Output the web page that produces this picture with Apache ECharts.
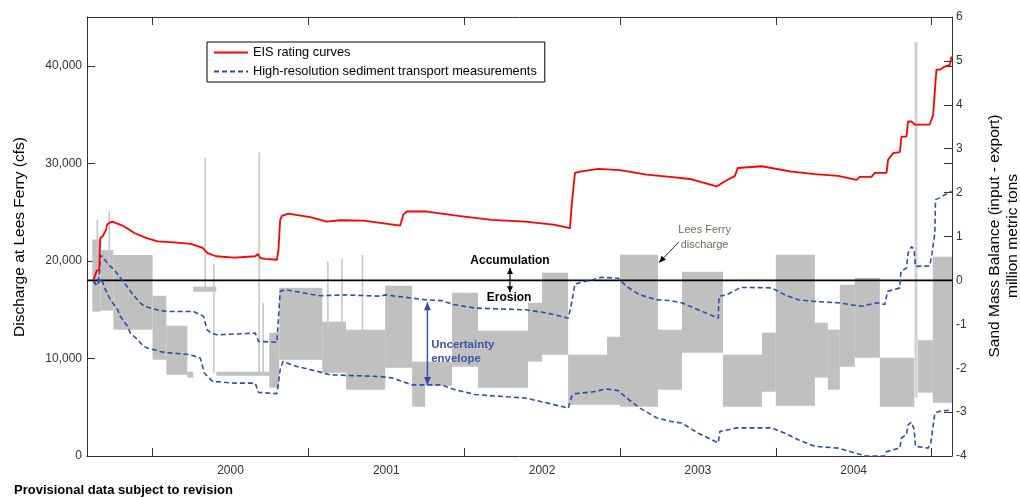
<!DOCTYPE html>
<html>
<head>
<meta charset="utf-8">
<script src="https://cdn.jsdelivr.net/npm/echarts@6/dist/echarts.min.js"></script>
<style>
  html, body { margin: 0; padding: 0; background: #fff; }
  #chart { width: 1020px; height: 498px; }
</style>
</head>
<body>
<div id="chart"></div>
<script>
// ---- time axis (decimal years) ----
const X_MIN = 1999.579;
const X_MAX = 2005.131;
const yearTicks = [2000, 2001, 2002, 2003, 2004, 2005];
const yearLabelPos = [2000.5, 2001.5, 2002.5, 2003.5, 2004.5];
const dischargeTicks = [0, 10000, 20000, 30000, 40000];

// Lees Ferry discharge, fluctuating-flow periods: [start, end, daily low, daily high] (cfs)
const dischargeBlocks = [
  [1999.613, 1999.665, 14800, 22200],
  [1999.665, 1999.748, 14900, 21100],
  [1999.748, 2000.000, 12950, 20600],
  [2000.000, 2000.088, 9870, 16430],
  [2000.088, 2000.223, 8330, 13360],
  [2000.223, 2000.261, 8030, 8640],
  [2000.261, 2000.409, 16840, 17350],
  [2000.409, 2000.749, 8230, 8640],
  [2000.749, 2000.813, 7000, 12640],
  [2000.813, 2001.089, 9870, 17250],
  [2001.089, 2001.242, 8540, 13770],
  [2001.242, 2001.493, 6800, 12950],
  [2001.493, 2001.666, 9050, 17460],
  [2001.666, 2001.749, 5050, 9670],
  [2001.749, 2001.922, 7210, 9670],
  [2001.922, 2002.089, 9150, 16740],
  [2002.089, 2002.410, 7000, 12840],
  [2002.410, 2002.500, 9670, 15710],
  [2002.500, 2002.667, 10380, 18790],
  [2002.667, 2002.917, 5260, 10380],
  [2002.917, 2003.000, 5260, 12230],
  [2003.000, 2003.244, 5050, 20630],
  [2003.244, 2003.398, 6800, 12950],
  [2003.398, 2003.661, 10590, 18890],
  [2003.661, 2003.911, 5050, 10380],
  [2003.911, 2004.000, 6590, 12640],
  [2004.000, 2004.251, 5160, 20630],
  [2004.251, 2004.334, 8030, 13660],
  [2004.334, 2004.411, 6800, 12950],
  [2004.411, 2004.507, 9150, 17560],
  [2004.507, 2004.668, 10080, 18280],
  [2004.668, 2004.889, 5050, 10080],
  [2004.912, 2005.008, 6490, 11870],
  [2005.008, 2005.131, 5460, 20430]
];

// short flow peaks: [time, low, high] (cfs)
const dischargeSpikes = [
  [1999.645, 20000, 24200],
  [1999.722, 20000, 25100],
  [2000.338, 17000, 30600],
  [2000.393, 8500, 19700],
  [2000.684, 8300, 31100],
  [2000.710, 8300, 15700],
  [2001.125, 13000, 19900],
  [2001.215, 13000, 20200],
  [2001.347, 12900, 20600]
];

// November 2004 high-flow release: [time, low, high] (cfs)
const highFlowRelease = [
  [2004.900, 6000, 42400]
];

// sand mass balance, EIS rating curves (million metric tons)
const eisCurve = [
  [1999.622,0.02],[1999.632,0.13],[1999.643,0.23],[1999.658,0.24],[1999.661,0.70],[1999.665,0.97],
  [1999.679,1.00],[1999.690,1.00],[1999.701,1.15],[1999.708,1.27],[1999.722,1.31],[1999.743,1.34],
  [1999.818,1.23],[1999.883,1.08],[1999.958,0.97],[2000.032,0.89],[2000.118,0.87],[2000.246,0.83],
  [2000.321,0.74],[2000.353,0.62],[2000.407,0.55],[2000.524,0.52],[2000.659,0.55],[2000.676,0.60],
  [2000.691,0.51],[2000.723,0.49],[2000.798,0.47],[2000.808,0.70],[2000.819,1.38],[2000.830,1.47],
  [2000.872,1.52],[2001.012,1.44],[2001.119,1.34],[2001.204,1.37],[2001.353,1.36],[2001.461,1.31],
  [2001.589,1.25],[2001.610,1.50],[2001.632,1.57],[2001.749,1.57],[2001.963,1.47],[2002.177,1.38],
  [2002.391,1.34],[2002.572,1.27],[2002.679,1.19],[2002.690,1.72],[2002.711,2.45],[2002.743,2.48],
  [2002.861,2.54],[2003.000,2.51],[2003.171,2.41],[2003.321,2.36],[2003.449,2.31],[2003.620,2.14],
  [2003.674,2.26],[2003.738,2.38],[2003.755,2.56],[2003.909,2.60],[2004.101,2.48],[2004.251,2.42],
  [2004.400,2.38],[2004.518,2.29],[2004.539,2.36],[2004.614,2.36],[2004.636,2.45],[2004.711,2.45],
  [2004.721,2.75],[2004.753,2.90],[2004.796,2.92],[2004.807,3.27],[2004.839,3.28],[2004.849,3.62],
  [2004.871,3.62],[2004.892,3.55],[2004.988,3.55],[2005.010,3.77],[2005.021,3.81],[2005.031,4.80],
  [2005.053,4.80],[2005.085,4.87],[2005.117,4.91],[2005.128,5.10]
];

// high-resolution measurements, upper bound of the uncertainty envelope
const hrUpper = [
  [1999.620,-0.01],[1999.639,-0.10],[1999.658,0.08],[1999.665,0.56],[1999.679,0.55],[1999.701,0.43],
  [1999.729,0.32],[1999.754,0.24],[1999.818,-0.06],[1999.836,-0.14],[1999.883,-0.36],[1999.921,-0.51],
  [1999.947,-0.59],[2000.028,-0.67],[2000.096,-0.71],[2000.263,-0.71],[2000.327,-0.82],[2000.349,-1.12],
  [2000.375,-1.20],[2000.413,-1.24],[2000.659,-1.20],[2000.680,-1.39],[2000.798,-1.41],[2000.819,-0.25],
  [2000.851,-0.21],[2000.990,-0.30],[2001.076,-0.35],[2001.236,-0.33],[2001.461,-0.36],[2001.493,-0.33],
  [2001.749,-0.44],[2001.856,-0.46],[2001.931,-0.55],[2002.070,-0.63],[2002.391,-0.67],[2002.530,-0.74],
  [2002.668,-0.86],[2002.690,-0.51],[2002.711,-0.08],[2002.829,0.02],[2002.883,0.07],[2002.989,0.05],
  [2003.043,-0.14],[2003.128,-0.33],[2003.235,-0.44],[2003.321,-0.46],[2003.396,-0.51],[2003.502,-0.67],
  [2003.631,-0.86],[2003.635,-0.36],[2003.684,-0.33],[2003.749,-0.21],[2003.770,-0.16],[2003.973,-0.17],
  [2004.058,-0.33],[2004.144,-0.44],[2004.251,-0.48],[2004.400,-0.51],[2004.550,-0.59],[2004.647,-0.51],
  [2004.700,-0.55],[2004.717,-0.25],[2004.796,-0.17],[2004.803,0.21],[2004.839,0.28],[2004.849,0.62],
  [2004.871,0.77],[2004.888,0.70],[2004.897,0.32],[2004.988,0.33],[2005.003,0.62],[2005.021,1.08],
  [2005.025,1.84],[2005.053,1.88],[2005.085,1.95],[2005.128,2.03]
];

// high-resolution measurements, lower bound of the uncertainty envelope
const hrLower = [
  [1999.620,-0.01],[1999.639,-0.12],[1999.658,-0.03],[1999.671,0.04],[1999.697,-0.21],[1999.729,-0.44],
  [1999.776,-0.67],[1999.793,-0.82],[1999.840,-1.05],[1999.857,-1.20],[1999.904,-1.35],[1999.942,-1.50],
  [1999.968,-1.54],[2000.049,-1.62],[2000.075,-1.64],[2000.242,-1.69],[2000.306,-1.77],[2000.310,-1.81],
  [2000.332,-2.11],[2000.385,-2.30],[2000.524,-2.34],[2000.659,-2.34],[2000.680,-2.55],[2000.798,-2.58],
  [2000.819,-2.03],[2000.836,-1.85],[2000.926,-1.96],[2001.055,-2.07],[2001.140,-2.15],[2001.461,-2.19],
  [2001.536,-2.22],[2001.664,-2.38],[2001.856,-2.38],[2001.942,-2.49],[2002.070,-2.60],[2002.391,-2.68],
  [2002.530,-2.79],[2002.668,-2.91],[2002.690,-2.64],[2002.711,-2.58],[2002.851,-2.53],[2002.904,-2.47],
  [2002.989,-2.51],[2003.043,-2.68],[2003.128,-2.91],[2003.235,-3.13],[2003.321,-3.21],[2003.396,-3.25],
  [2003.502,-3.48],[2003.631,-3.70],[2003.641,-3.44],[2003.749,-3.36],[2003.973,-3.36],[2004.058,-3.48],
  [2004.144,-3.63],[2004.251,-3.78],[2004.400,-3.82],[2004.507,-3.93],[2004.582,-4.00],[2004.700,-4.00],
  [2004.711,-3.90],[2004.796,-3.82],[2004.807,-3.59],[2004.839,-3.51],[2004.849,-3.29],[2004.871,-3.23],
  [2004.888,-3.40],[2004.897,-3.78],[2004.978,-3.82],[2004.995,-3.70],[2005.021,-3.02],[2005.053,-2.98],
  [2005.128,-2.95]
];

// zero line of the mass balance (accumulation above, erosion below)
const zeroBalance = [[X_MIN, 0], [X_MAX, 0]];

const NAME_EIS = 'EIS rating curves';
const NAME_HR = 'High-resolution sediment transport measurements';
const FONT = 'Arial, "Liberation Sans", Helvetica, sans-serif';
const AXIS_COLOR = '#333';
const GRAY = '#c0c0c0';
const BLUE = '#2f4ea6';
const RED = '#ff0000';

const chart = echarts.init(document.getElementById('chart'), null, { renderer: 'canvas' });

function renderBlock(params, api) {
  const p0 = api.coord([api.value(0), api.value(3)]);
  const p1 = api.coord([api.value(1), api.value(2)]);
  return {
    type: 'rect',
    shape: { x: p0[0], y: p0[1], width: Math.max(p1[0] - p0[0], 1), height: Math.max(p1[1] - p0[1], 2) },
    style: { fill: GRAY }
  };
}

function spikeRenderer(width, color) {
  return function (params, api) {
    const top = api.coord([api.value(0), api.value(2)]);
    const bottom = api.coord([api.value(0), api.value(1)]);
    return {
      type: 'rect',
      shape: { x: top[0] - width / 2, y: top[1], width: width, height: bottom[1] - top[1] },
      style: { fill: color }
    };
  };
}

const tickStyle = { color: AXIS_COLOR, width: 1 };
const labelStyle = { color: '#333', fontSize: 12, fontFamily: FONT };

const option = {
  animation: false,
  backgroundColor: '#fff',
  grid: { left: 87, right: 68, top: 17, bottom: 42, containLabel: false },
  legend: {
    data: [NAME_EIS, NAME_HR],
    orient: 'vertical',
    left: 207,
    top: 42,
    padding: [4, 8, 4, 6],
    itemGap: 6,
    itemWidth: 34,
    itemHeight: 14,
    borderColor: '#000',
    borderWidth: 1,
    backgroundColor: '#fff',
    selectedMode: false,
    itemStyle: { opacity: 0 },
    textStyle: { fontSize: 12.8, fontFamily: FONT, color: '#000' }
  },
  xAxis: [
    {
      type: 'value', min: X_MIN, max: X_MAX, position: 'bottom',
      axisLine: { show: true, lineStyle: { color: AXIS_COLOR, width: 1 } },
      axisTick: { show: true, inside: true, length: 8, customValues: yearTicks, lineStyle: tickStyle },
      axisLabel: {
        show: true, margin: 9, customValues: yearLabelPos, ...labelStyle,
        formatter: v => String(Math.floor(v))
      },
      splitLine: { show: false }
    },
    {
      type: 'value', min: X_MIN, max: X_MAX, position: 'top',
      axisLine: { show: true, onZero: false, lineStyle: { color: AXIS_COLOR, width: 1 } },
      axisTick: { show: true, inside: true, length: 8, customValues: yearTicks, lineStyle: tickStyle },
      axisLabel: { show: false },
      splitLine: { show: false }
    }
  ],
  yAxis: [
    {
      type: 'value', min: 0, max: 45000, position: 'left',
      axisLine: { show: true, onZero: false, lineStyle: { color: AXIS_COLOR, width: 1 } },
      axisTick: { show: true, inside: true, length: 8, customValues: dischargeTicks, lineStyle: tickStyle },
      axisLabel: {
        show: true, margin: 5, customValues: dischargeTicks, ...labelStyle,
        formatter: v => Number(v).toLocaleString('en-US')
      },
      splitLine: { show: false }
    },
    {
      type: 'value', min: -4, max: 6, interval: 1, position: 'right',
      axisLine: { show: true, onZero: false, lineStyle: { color: AXIS_COLOR, width: 1 } },
      axisTick: { show: true, inside: true, length: 8, lineStyle: tickStyle },
      axisLabel: { show: true, margin: 4, ...labelStyle },
      splitLine: { show: false }
    },
    {
      // discharge ticks repeated on the right frame edge
      type: 'value', min: 0, max: 45000, position: 'right',
      axisLine: { show: false },
      axisTick: { show: true, inside: true, length: 8, customValues: dischargeTicks, lineStyle: tickStyle },
      axisLabel: { show: false },
      splitLine: { show: false }
    }
  ],
  series: [
    {
      name: 'Lees Ferry discharge', type: 'custom', xAxisIndex: 0, yAxisIndex: 0,
      renderItem: renderBlock, data: dischargeBlocks, silent: true, z: 1,
      encode: { x: [0, 1], y: [2, 3] }
    },
    {
      name: 'Lees Ferry peaks', type: 'custom', xAxisIndex: 0, yAxisIndex: 0,
      renderItem: spikeRenderer(1.6, '#c8c8c8'), data: dischargeSpikes, silent: true, z: 1,
      encode: { x: 0, y: [1, 2] }
    },
    {
      name: 'High-flow release', type: 'custom', xAxisIndex: 0, yAxisIndex: 0,
      renderItem: spikeRenderer(3, '#d2d2d2'), data: highFlowRelease, silent: true, z: 1,
      encode: { x: 0, y: [1, 2] }
    },
    {
      name: 'zero', type: 'line', xAxisIndex: 0, yAxisIndex: 1, data: zeroBalance,
      symbol: 'none', silent: true, z: 2,
      lineStyle: { color: '#000', width: 1.6 }
    },
    {
      name: NAME_HR, type: 'line', xAxisIndex: 0, yAxisIndex: 1, data: hrUpper,
      symbol: 'none', showSymbol: false, silent: true, z: 3,
      itemStyle: { color: BLUE },
      lineStyle: { color: BLUE, width: 1.6, type: [5, 3] }
    },
    {
      name: NAME_HR, type: 'line', xAxisIndex: 0, yAxisIndex: 1, data: hrLower,
      symbol: 'none', showSymbol: false, silent: true, z: 3,
      itemStyle: { color: BLUE },
      lineStyle: { color: BLUE, width: 1.6, type: [5, 3] }
    },
    {
      name: NAME_EIS, type: 'line', xAxisIndex: 0, yAxisIndex: 1, data: eisCurve,
      symbol: 'none', showSymbol: false, silent: true, z: 4,
      itemStyle: { color: RED },
      lineStyle: { color: RED, width: 1.8 }
    }
  ]
};

chart.setOption(option);

// ---- annotations, anchored in mass-balance coordinates ----
const EIS_INDEX = option.series.findIndex(s => s.name === NAME_EIS);
const px = (t, m) => chart.convertToPixel({ seriesIndex: EIS_INDEX }, [t, m]);

function arrowHead(tip, from, color, len, half) {
  const dx = tip[0] - from[0], dy = tip[1] - from[1];
  const d = Math.hypot(dx, dy) || 1;
  const ux = dx / d, uy = dy / d;
  const bx = tip[0] - ux * len, by = tip[1] - uy * len;
  return {
    type: 'polygon', silent: true, z: 20,
    shape: { points: [[tip[0], tip[1]], [bx - uy * half, by + ux * half], [bx + uy * half, by - ux * half]] },
    style: { fill: color }
  };
}
function arrowLine(a, b, color, width) {
  return {
    type: 'line', silent: true, z: 20,
    shape: { x1: a[0], y1: a[1], x2: b[0], y2: b[1] },
    style: { stroke: color, lineWidth: width }
  };
}
function label(p, text, font, color, align) {
  return {
    type: 'text', silent: true, z: 21, x: p[0], y: p[1],
    style: { text: text, font: font, fill: color, align: align || 'center', verticalAlign: 'middle' }
  };
}

// accumulation / erosion marker
const signTop = px(2002.294, 0.28);
const signBottom = px(2002.294, -0.27);
// uncertainty envelope marker
const envTop = px(2001.764, -0.50);
const envBottom = px(2001.764, -2.38);
// discharge pointer
const lfTail = px(2003.378, 0.88);
const lfTip = px(2003.250, 0.40);

const graphics = [
  arrowLine(signTop, signBottom, '#000', 1.2),
  arrowHead(signTop, signBottom, '#000', 6, 3),
  arrowHead(signBottom, signTop, '#000', 6, 3),
  label(px(2002.294, 0.45), 'Accumulation', 'bold 12px ' + FONT, '#000'),
  label(px(2002.288, -0.40), 'Erosion', 'bold 12px ' + FONT, '#000'),

  arrowLine(envTop, envBottom, BLUE, 1.4),
  arrowHead(envTop, envBottom, BLUE, 8, 3.5),
  arrowHead(envBottom, envTop, BLUE, 8, 3.5),
  label(px(2001.788, -1.46), 'Uncertainty', 'bold 11.5px ' + FONT, '#3c56a8', 'left'),
  label(px(2001.788, -1.78), 'envelope', 'bold 11.5px ' + FONT, '#3c56a8', 'left'),

  arrowLine(lfTail, lfTip, '#000', 0.8),
  arrowHead(lfTip, lfTail, '#000', 7, 3),
  label(px(2003.543, 1.15), 'Lees Ferry', '11px ' + FONT, '#6f6f5a'),
  label(px(2003.543, 0.81), 'discharge', '11px ' + FONT, '#6f6f5a'),

  // axis titles and footnote
  {
    type: 'text', silent: true, x: 20, y: 237, rotation: Math.PI / 2,
    style: { text: 'Discharge at Lees Ferry (cfs)', font: '15.5px ' + FONT, fill: '#000', align: 'center', verticalAlign: 'middle' }
  },
  {
    type: 'text', silent: true, x: 995, y: 236, rotation: Math.PI / 2,
    style: { text: 'Sand Mass Balance (input - export)', font: '15.5px ' + FONT, fill: '#000', align: 'center', verticalAlign: 'middle' }
  },
  {
    type: 'text', silent: true, x: 1013, y: 236, rotation: Math.PI / 2,
    style: { text: 'million metric tons', font: '15.5px ' + FONT, fill: '#000', align: 'center', verticalAlign: 'middle' }
  },
  {
    type: 'text', silent: true, x: 14, y: 490,
    style: { text: 'Provisional data subject to revision', font: 'bold 13px ' + FONT, fill: '#000', align: 'left', verticalAlign: 'middle' }
  }
];

chart.setOption({ graphic: graphics });
</script>
</body>
</html>
